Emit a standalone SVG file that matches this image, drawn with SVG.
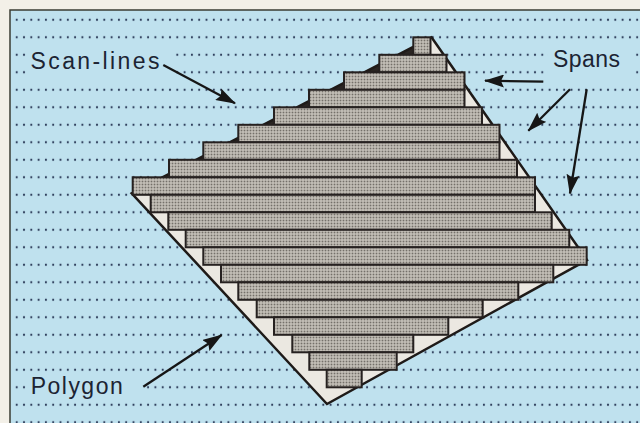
<svg xmlns="http://www.w3.org/2000/svg" width="640" height="423" viewBox="0 0 640 423">
  <defs>
    <pattern id="scandots" patternUnits="userSpaceOnUse" x="13.05" y="11.05" width="7.3" height="17.5">
      <circle cx="3.65" cy="8.75" r="1.1" fill="#2b3a58"/>
    </pattern>
    <pattern id="halftone" patternUnits="userSpaceOnUse" width="3" height="3">
      <rect width="3" height="3" fill="#cdc9c1"/>
      <rect x="0.6" y="0.6" width="1.8" height="1.8" fill="#747069"/>
    </pattern>
    <marker id="ah" viewBox="0 0 20 13" markerWidth="20" markerHeight="13" markerUnits="userSpaceOnUse" refX="19" refY="6.5" orient="auto">
      <path d="M0,0 L20,6.5 L0,13 L3,6.5 z" fill="#161616"/>
    </marker>
    <style>
      .span { fill: url(#halftone); stroke: #262120; stroke-width: 2; }
      .wedge { fill: #2a2522; }
      .edge { fill: none; stroke: #1e1a18; stroke-width: 2.5; stroke-linejoin: miter; }
      .arrow { fill: none; stroke: #161616; stroke-width: 2.3; marker-end: url(#ah); }
      .label { font-family: "Liberation Sans", Arial, Helvetica, sans-serif; font-size: 23px; fill: #1c2433; }
      .gap { fill: #bfe1ee; }
    </style>
  </defs>

  <g id="background">
    <rect x="0" y="0" width="640" height="423" fill="#f3f0e8"/>
    <rect x="10" y="10" width="640" height="420" fill="#bfe1ee" stroke="#3b3d33" stroke-width="1.5"/>
    <rect x="11" y="11" width="629" height="412" fill="url(#scandots)"/>
    <rect class="gap" x="27" y="46" width="146" height="31"/>
    <rect class="gap" x="548" y="46" width="84" height="31"/>
    <rect class="gap" x="27" y="379" width="116" height="16"/>
  </g>

  <g id="polygon">
    <polygon points="431.5,37.3 587,260 327,404 131.7,193.3" fill="#ebe8e1"/>
    <polygon class="wedge" points="413.3,46.5 413.3,54.8 397.9,54.8"/>
    <polygon class="wedge" points="379.3,64.5 379.3,72.3 364.2,72.3"/>
    <polygon class="wedge" points="344,82.8 344,89.8 330.6,89.8"/>
    <polygon class="wedge" points="309,101 309,107.3 297,107.3"/>
    <polygon class="wedge" points="274,119.2 274,124.8 263.3,124.8"/>
    <polygon class="wedge" points="238.3,137.8 238.3,142.3 229.7,142.3"/>
    <polygon class="wedge" points="203.3,156 203.3,159.8 196.1,159.8"/>
    <polygon class="wedge" points="169,173.9 169,177.3 162.4,177.3"/>
    <polygon class="edge" points="431.5,37.3 587,260 327,404 131.7,193.3"/>
  </g>

  <g id="spans">
    <rect class="span" x="413.3" y="37.3" width="17.2" height="17.5"/>
    <rect class="span" x="379.3" y="54.8" width="67.2" height="17.5"/>
    <rect class="span" x="344" y="72.3" width="120.5" height="17.5"/>
    <rect class="span" x="309" y="89.8" width="155.5" height="17.5"/>
    <rect class="span" x="274" y="107.3" width="208" height="17.5"/>
    <rect class="span" x="238.3" y="124.8" width="261.2" height="17.5"/>
    <rect class="span" x="203.3" y="142.3" width="296.2" height="17.5"/>
    <rect class="span" x="169" y="159.8" width="348" height="17.5"/>
    <rect class="span" x="132.7" y="177.3" width="402.3" height="17.5"/>
    <rect class="span" x="150.7" y="194.8" width="384.3" height="17.5"/>
    <rect class="span" x="168.3" y="212.3" width="383.4" height="17.5"/>
    <rect class="span" x="185.7" y="229.8" width="383.6" height="17.5"/>
    <rect class="span" x="203.3" y="247.3" width="383.4" height="17.5"/>
    <rect class="span" x="221" y="264.8" width="332.3" height="17.5"/>
    <rect class="span" x="238.3" y="282.3" width="280" height="17.5"/>
    <rect class="span" x="256.7" y="299.8" width="226" height="17.5"/>
    <rect class="span" x="274" y="317.3" width="174.3" height="17.5"/>
    <rect class="span" x="292.3" y="334.8" width="121" height="17.5"/>
    <rect class="span" x="309.3" y="352.3" width="87.4" height="17.5"/>
    <rect class="span" x="326.7" y="369.8" width="35" height="17.5"/>
  </g>

  <g id="connectors">
    <line class="arrow" x1="163.3" y1="65" x2="235" y2="103.3"/>
    <line class="arrow" x1="543.3" y1="81.7" x2="485" y2="80.7"/>
    <line class="arrow" x1="570" y1="89.3" x2="528.3" y2="130.7"/>
    <line class="arrow" x1="586.7" y1="89.3" x2="570" y2="193.5"/>
    <line class="arrow" x1="143.3" y1="386.7" x2="221.7" y2="335"/>
  </g>

  <g id="label-scanlines">
    <text class="label" x="30.5" y="69" textLength="129" lengthAdjust="spacing">Scan-lines</text>
  </g>
  <g id="label-spans">
    <text class="label" x="553" y="67" textLength="67" lengthAdjust="spacing">Spans</text>
  </g>
  <g id="label-polygon">
    <text class="label" x="30.7" y="393.5" textLength="92" lengthAdjust="spacing">Polygon</text>
  </g>
</svg>
